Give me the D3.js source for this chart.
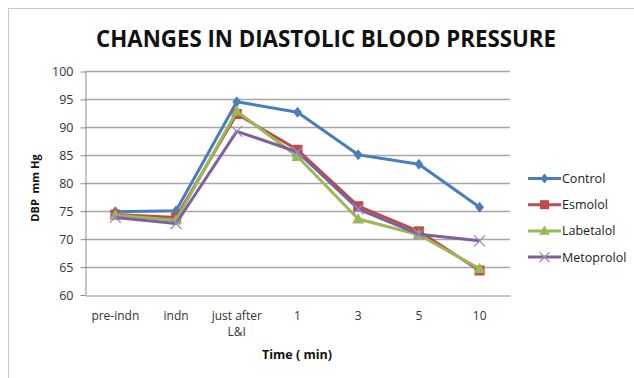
<!DOCTYPE html>
<html>
<head>
<meta charset="utf-8">
<script src="https://cdn.jsdelivr.net/npm/d3@7"></script>
<style>
  html, body { margin: 0; padding: 0; background: #fff; }
  svg { display: block; }
  text { font-family: "Open Sans", "DejaVu Sans", sans-serif; }
</style>
</head>
<body>
<svg id="chart" width="634" height="378"></svg>
<script>
// Time points and diastolic blood pressure (mm Hg) per group
const categories = ["pre-indn", "indn", "just after\nL&I", "1", "3", "5", "10"];
const control    = [74.8, 75.0, 94.5, 92.6, 85.0, 83.3, 75.6];
const esmolol    = [74.3, 73.8, 92.3, 85.9, 75.8, 71.3, 64.3];
const labetalol  = [74.2, 73.3, 92.8, 84.7, 73.5, 70.7, 64.6];
const metoprolol = [73.8, 72.7, 89.2, 85.5, 75.3, 70.8, 69.6];
const yTicks     = [60, 65, 70, 75, 80, 85, 90, 95, 100];

const series = [
  { name: "Control",    values: control,    color: "#4A7EBB", marker: "diamond" },
  { name: "Esmolol",    values: esmolol,    color: "#BE4B48", marker: "square" },
  { name: "Labetalol",  values: labetalol,  color: "#98B954", marker: "triangle" },
  { name: "Metoprolol", values: metoprolol, color: "#7D60A0", marker: "cross" }
];

const svg = d3.select("#chart");
const plot = { left: 85, right: 510, top: 71, bottom: 294.5 };

// Outer chart frame
svg.append("path")
  .attr("d", "M8.5,378 V8.5 H634")
  .attr("fill", "none").attr("stroke", "#c8c8c8").attr("stroke-width", 1);

const x = d3.scaleBand().domain(categories).range([plot.left, plot.right]);
const y = d3.scaleLinear().domain([60, 100]).range([plot.bottom, plot.top]);
const cx = c => x(c) + x.bandwidth() / 2;

// Horizontal gridlines
svg.append("g").selectAll("line").data(yTicks.filter(t => t > 60)).join("line")
  .attr("x1", plot.left).attr("x2", plot.right)
  .attr("y1", d => Math.round(y(d)) + 0.5).attr("y2", d => Math.round(y(d)) + 0.5)
  .attr("stroke", "#a6a6a6").attr("stroke-width", 1.3);

// Y axis
const yAxis = svg.append("g")
  .attr("transform", `translate(${plot.left + 0.5},0.5)`)
  .call(d3.axisLeft(y).tickValues(yTicks).tickSize(5).tickPadding(7).tickSizeOuter(0));
yAxis.select(".domain").attr("stroke", "#8c8c8c");
yAxis.selectAll(".tick line").attr("stroke", "#8c8c8c");
yAxis.selectAll(".tick text").attr("font-size", 12.5).attr("fill", "#333")
  .attr("font-family", "'Open Sans', sans-serif");

// X axis
const xAxis = svg.append("g")
  .attr("transform", `translate(0.5,${Math.round(plot.bottom) + 0.5})`)
  .call(d3.axisBottom(x).tickSize(0).tickSizeOuter(0).tickFormat(""));
xAxis.select(".domain").attr("stroke", "#8c8c8c");
xAxis.selectAll(".tick line").remove();

const xl = svg.append("g").selectAll("text").data(categories).join("text")
  .attr("x", d => cx(d)).attr("y", 320)
  .attr("text-anchor", "middle").attr("font-size", 12).attr("fill", "#333");
xl.each(function(d) {
  const lines = d.split("\n");
  d3.select(this).selectAll("tspan").data(lines).join("tspan")
    .attr("x", cx(d)).attr("dy", (l, i) => i === 0 ? 0 : 16).text(l => l);
});

// Lines and markers
const line = d3.line().x((v, i) => cx(categories[i])).y(v => y(v));

function drawMarker(g, type, color, px, py, s) {
  if (type === "diamond") {
    g.append("path").attr("d", `M${px},${py - s} L${px + s * 0.8},${py} L${px},${py + s} L${px - s * 0.8},${py} Z`)
      .attr("fill", color);
  } else if (type === "square") {
    g.append("rect").attr("x", px - s).attr("y", py - s).attr("width", 2 * s).attr("height", 2 * s)
      .attr("fill", color);
  } else if (type === "triangle") {
    g.append("path").attr("d", `M${px},${py - s * 1.1} L${px + s * 1.1},${py + s * 0.8} L${px - s * 1.1},${py + s * 0.8} Z`)
      .attr("fill", color);
  } else {
    g.append("path").attr("d", `M${px - s},${py - s} L${px + s},${py + s} M${px - s},${py + s} L${px + s},${py - s}`)
      .attr("stroke", "#9a88c8").attr("stroke-width", 1.3).attr("fill", "none");
  }
}

const markerSize = { diamond: 5.5, square: 5, triangle: 5.5, cross: 5.5 };

series.forEach(s => {
  const g = svg.append("g");
  g.append("path").datum(s.values).attr("d", line)
    .attr("fill", "none").attr("stroke", s.color).attr("stroke-width", 3)
    .attr("stroke-linejoin", "round");
  s.values.forEach((v, i) => drawMarker(g, s.marker, s.color, cx(categories[i]), y(v), markerSize[s.marker]));
});

// Legend
const legend = svg.append("g");
series.forEach((s, i) => {
  const ly = 178.5 + i * 26.2;
  legend.append("line").attr("x1", 528).attr("x2", 561).attr("y1", ly).attr("y2", ly)
    .attr("stroke", s.color).attr("stroke-width", 3);
  drawMarker(legend, s.marker, s.color, 544.5, ly, markerSize[s.marker] * 0.9);
  legend.append("text").attr("x", 562).attr("y", ly + 4.5)
    .attr("font-size", 12.5).attr("fill", "#222").text(s.name);
});

// Title and axis titles
svg.append("text").attr("x", 326).attr("y", 47)
  .attr("text-anchor", "middle").attr("font-size", 23).attr("font-weight", "bold")
  .attr("fill", "#111").attr("textLength", 460).attr("lengthAdjust", "spacingAndGlyphs")
  .attr("font-family", "'Liberation Sans Narrow', 'Open Sans', sans-serif")
  .text("CHANGES IN DIASTOLIC BLOOD PRESSURE");

svg.append("text").attr("x", 297).attr("y", 359)
  .attr("text-anchor", "middle").attr("font-size", 12.5).attr("font-weight", "bold")
  .attr("fill", "#111").text("Time ( min)");

svg.append("text").attr("transform", "translate(39,188) rotate(-90)")
  .attr("text-anchor", "middle").attr("font-size", 11).attr("font-weight", "bold")
  .attr("fill", "#111").attr("xml:space", "preserve").text("DBP  mm Hg");
</script>
</body>
</html>
